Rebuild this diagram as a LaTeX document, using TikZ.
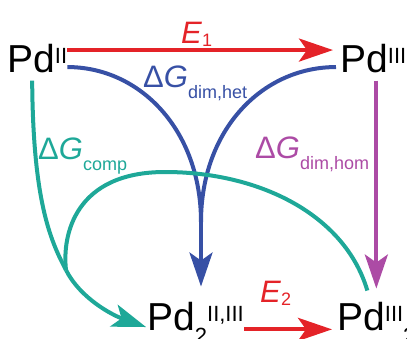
\documentclass[tikz,border=0pt]{standalone}
\usepackage{fontspec}
\setmainfont{Liberation Sans}
\usepackage{xcolor}
\usepackage{tikz}
\usetikzlibrary{arrows.meta}

\definecolor{ered}{RGB}{228,35,40}
\definecolor{hetblue}{RGB}{55,80,165}
\definecolor{compteal}{RGB}{30,168,152}
\definecolor{hommag}{RGB}{172,75,165}
\newcommand{\pdsup}[1]{\raisebox{9pt}{\fontsize{22}{22}\selectfont #1}}
\newcommand{\pdsub}[1]{\raisebox{-13pt}{\fontsize{22}{22}\selectfont #1}}
\newcommand{\lblsub}[1]{\raisebox{-11pt}{\fontsize{18}{18}\selectfont #1}}
\newcommand{\esub}[1]{\raisebox{-3pt}{\fontsize{18}{18}\selectfont #1}}

\begin{document}
\begin{tikzpicture}[x=1pt, y=-1pt,
  pd/.style={inner sep=0pt, anchor=base west, font=\fontsize{39}{39}\selectfont},
  lbl/.style={inner sep=0pt, anchor=base west, font=\fontsize{31}{31}\selectfont},
  wire/.style={line width=4pt},
  tip/.style={wire, -{Stealth[length=34pt,width=23pt,inset=8pt]}},
]
\useasboundingbox (0,0) rectangle (407,338);
\node[pd] (pdII) at (7,72) {Pd\pdsup{II}};
\node[pd] (pdIII) at (340,72) {Pd\pdsup{III}};
\node[pd] (pdA) at (147,330) {Pd\pdsub{2}\pdsup{II,III}};
\node[pd] (pdB) at (337,330) {Pd\pdsup{III}\pdsub{2}};

\node[lbl, text=ered] (e1) at (181,43) {\textit{E}\esub{1}};
\node[lbl, text=ered] (e2) at (260,302) {\textit{E}\esub{2}};
\node[lbl, text=hetblue] (het) at (143,87) {Δ\textit{G}\lblsub{dim,het}};
\node[lbl, text=compteal] (comp) at (38,159) {Δ\textit{G}\lblsub{comp}};
\node[lbl, text=hommag] (hom) at (255,158) {Δ\textit{G}\lblsub{dim,hom}};

\coordinate (hetjoin) at (201,222);
\coordinate (compjoin) at (66,270);

\draw[tip, ered, shorten >=7pt] ([yshift=8pt]pdII.east) -- ([yshift=8pt]pdIII.west);
\draw[tip, ered, shorten >=5pt] ([yshift=-7pt]pdA.east) -- ([yshift=-7pt]pdB.west);

\draw[wire, hetblue] ([yshift=-9pt]pdII.east) .. controls (140,67) and (201,130) .. (hetjoin);
\draw[wire, hetblue] ([yshift=-9pt,xshift=-4pt]pdIII.west) .. controls (262,67) and (201,130) .. (hetjoin);
\draw[tip, hetblue, shorten >=15pt] (hetjoin) -- (hetjoin |- pdA.north);

\draw[tip, hommag, shorten <=8pt, shorten >=13pt] (pdB.north |- pdIII.south) -- (pdB.north);

\draw[wire, compteal] ([xshift=-5pt,yshift=-8pt]pdII.south) .. controls (33,200) and (50,240) .. (compjoin);
\draw[wire, compteal] ([shift={(-9pt,11pt)}]pdB.north) .. controls (345,215) and (260,172) .. (165,172)
  .. controls (75,172) and (62,235) .. (compjoin);
\draw[tip, compteal, shorten >=1pt] (compjoin) .. controls (80,298) and (112,315) .. ([yshift=-5pt]pdA.west);
\end{tikzpicture}
\end{document}
